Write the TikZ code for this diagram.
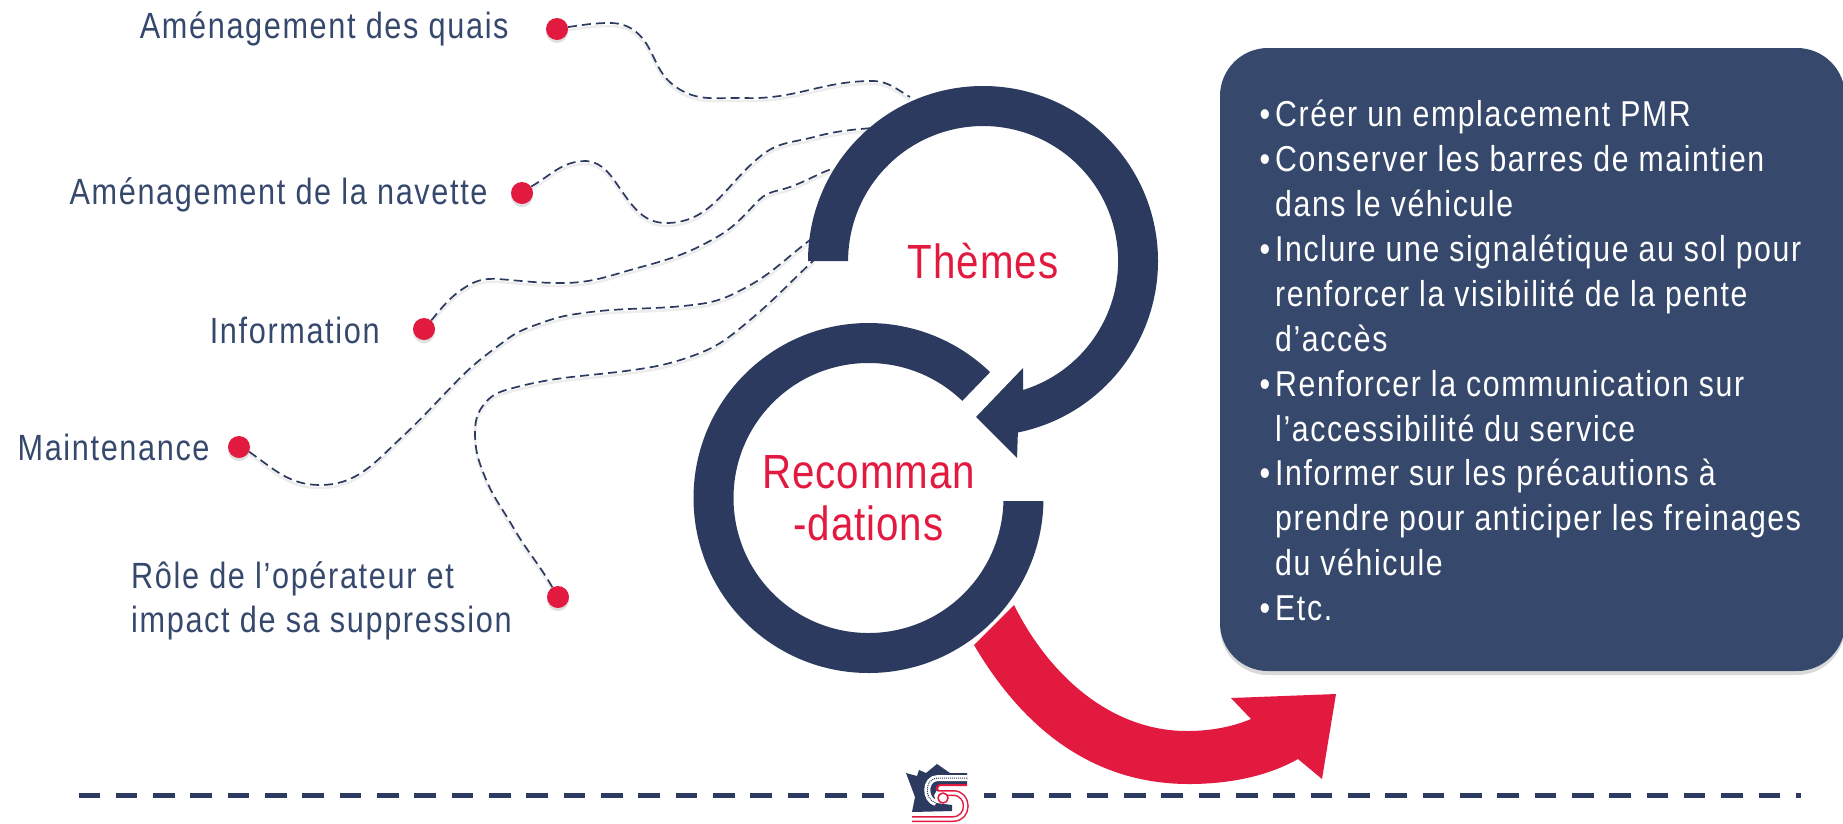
\documentclass[tikz,border=0pt]{standalone}
\usepackage{fontspec}
\setmainfont[FakeStretch=0.84,LetterSpace=4.5]{Liberation Sans}
\usetikzlibrary{shadows}
\usetikzlibrary{positioning}
\definecolor{marine}{HTML}{2B3A5E}
\definecolor{ardoise}{HTML}{36496D}
\definecolor{rouge}{HTML}{E31A40}
\tikzset{
    point/.style={circle, fill=rouge, minimum size=22pt, inner sep=0pt, drop shadow={shadow xshift=0pt, shadow yshift=-3pt, opacity=.25}},
    theme/.style={text=ardoise, font=\fontsize{36.5}{44}\selectfont, inner sep=0pt},
    titre/.style={text=rouge, font=\fontsize{48}{52}\selectfont\addfontfeature{LetterSpace=2}, inner sep=0pt, align=center},
    lien/.style={draw=marine, line width=1.7pt, dash pattern=on 9pt off 5pt,
        preaction={draw=black, opacity=.07, line width=2.5pt, transform canvas={yshift=-3pt}}},
    regle/.style={draw=marine, line width=5.5pt, dash pattern=on 21.5pt off 15.83pt}
}
\newcommand{\puce}{\leavevmode\llap{\textbullet\hspace{5pt}}}
\begin{document}
\begin{tikzpicture}[x=1pt, y=1pt]
    \useasboundingbox (0,0) rectangle (1843,-823);
    % points
    \node[point] (quais) at (557,-29) {};
    \node[point] (navette) at (522,-193) {};
    \node[point] (info) at (424,-329) {};
    \node[point] (maint) at (239,-447) {};
    \node[point] (role) at (558,-597) {};
    \node[theme, left=37pt of quais] (tquais) {Aménagement des quais};
    \node[theme, left=23pt of navette, yshift=-2pt] (tnavette) {Aménagement de la navette};
    \node[theme, left=33pt of info, yshift=-1pt] (tinfo) {Information};
    \node[theme, left=18pt of maint] (tmaint) {Maintenance};
    \node[theme, align=left, anchor=west] (trole) at (131,-601) {Rôle de l’opérateur et\\impact de sa suppression};
    % liens
    \coordinate (bout1) at (910,-97);
    \coordinate (bout2) at (872,-128);
    \coordinate (bout3) at (834,-168);
    \coordinate (bout4) at (810,-240);
    \coordinate (bout5) at (814,-260);
    \draw[lien] (quais.10) to[out=8,in=180] (610,-23) to[out=0,in=117] (650,-50) to[out=-63,in=145] (676,-87)
        to[out=-35,in=178] (745,-98) to[out=-2,in=180] (872,-81) to[out=0,in=150] (bout1);
    \draw[lien] (navette.35) to[out=30,in=180] (586,-161) to[out=-5,in=125] (621,-190) to[out=-55,in=180] (666,-223)
        to[out=0,in=218] (762,-155) to[out=38,in=195] (814,-137) to[out=15,in=185] (bout2);
    \draw[lien] (info.50) to[out=50,in=210] (469,-285) to[out=30,in=175] (510,-280) to[out=-5,in=180] (562,-283)
        to[out=0,in=195] (641,-267) to[out=15,in=210] (717,-237) to[out=30,in=225] (759,-200)
        to[out=45,in=200] (790,-187) to[out=20,in=200] (bout3);
    \draw[lien] (maint.-25) to[out=-35,in=180] (320,-485) to[out=0,in=223] (402,-437) to[out=43,in=225] (461,-377)
        to[out=45,in=217] (506,-340) to[out=37,in=200] (544,-322) to[out=20,in=188] (583,-313)
        to[out=8,in=188] (700,-304) to[out=8,in=208] (745,-288) to[out=28,in=217] (bout4);
    \draw[lien] (role.120) to[out=120,in=300] (513,-527) to[out=120,in=292] (485,-477) to[out=112,in=270] (475,-433)
        to[out=90,in=230] (485,-403) to[out=50,in=195] (513,-388) to[out=15,in=188] (633,-370)
        to[out=8,in=200] (695,-355) to[out=20,in=220] (750,-320) to[out=40,in=223] (bout5);
    % anneaux
    \node[titre] (themes) at (983,-261) {Thèmes};
    \node[titre] (recos) at (868.5,-498) {Recomman\\-dations};
    \fill[marine] (themes.center) ++(180:175) arc[start angle=180, end angle=-78.5, radius=175pt]
        -- (1017,-458) -- (976,-417) -- (1023,-368) -- (1023,-390)
        arc[start angle=-72.8, end angle=180, radius=135pt] -- cycle;
    \fill[marine] (recos.center) ++(-1:175) arc[start angle=-1, end angle=-314, radius=175pt]
        -- ++(226:40) arc[start angle=46, end angle=358.7, radius=135pt] -- cycle;
    % fleche rouge
    \fill[rouge] (1014,-605) .. controls (1050,-677) and (1112,-731) .. (1187,-731)
        .. controls (1210,-731) and (1232,-727) .. (1251,-719)
        -- (1231,-698) -- (1336,-694) -- (1322,-779) -- (1298,-759)
        .. controls (1268,-776) and (1230,-784) .. (1189,-784)
        .. controls (1094,-784) and (1024,-730) .. (974,-645) -- cycle;
    % cadre
    \fill[ardoise, rounded corners=48pt, drop shadow={shadow xshift=0pt, shadow yshift=-4pt, opacity=.3}]
        (1220,-48) rectangle (1845,-671);
    \node[anchor=north west, align=left, text=white, inner sep=0pt, font=\fontsize{36}{44.9}\selectfont] (liste) at (1275,-100)
        {\puce Créer un emplacement PMR\\
        \puce Conserver les barres de maintien\\
        dans le véhicule\\
        \puce Inclure une signalétique au sol pour\\
        renforcer la visibilité de la pente\\
        d’accès\\
        \puce Renforcer la communication sur\\
        l’accessibilité du service\\
        \puce Informer sur les précautions à\\
        prendre pour anticiper les freinages\\
        du véhicule\\
        \puce Etc.};
    % regle et logo
    \coordinate (g1) at (78.5,-795.7);
    \coordinate (g2) at (884,-795.7);
    \coordinate (d1) at (984,-795.7);
    \coordinate (d2) at (1801,-795.7);
    \draw[regle] (g1) -- (g2);
    \draw[regle, dash phase=9.3pt] (d1) -- (d2);
    \fill[marine] (906,-773) -- (917,-776) -- (919,-770) -- (926,-773) -- (937,-764) -- (950,-773) -- (967,-773)
        -- (967,-784) -- (940,-785) -- (934,-795) -- (936,-803) -- (952,-805) -- (952,-811) -- (912,-812) -- (915,-797) -- cycle;
    \draw[white, line width=6pt] (967,-778) -- (938,-778) .. controls (924,-778) and (924,-800) .. (936,-803);
    \draw[marine, line width=1pt, densely dotted] (967,-778) -- (938,-778) .. controls (924,-778) and (924,-800) .. (936,-803);
    \draw[rouge, line width=2pt] (967,-785) -- (942,-785) .. controls (935,-785) and (935,-791) .. (942,-792);
    \draw[rouge, line width=6pt] (938,-793) -- (953,-793) .. controls (970,-793) and (970,-819) .. (953,-819) -- (912,-819);
    \draw[white, line width=3pt] (938,-793) -- (953,-793) .. controls (970,-793) and (970,-819) .. (953,-819) -- (912,-819);
    \fill[white, draw=rouge, line width=1.5pt] (943,-798) circle[radius=5pt];
\end{tikzpicture}
\end{document}
